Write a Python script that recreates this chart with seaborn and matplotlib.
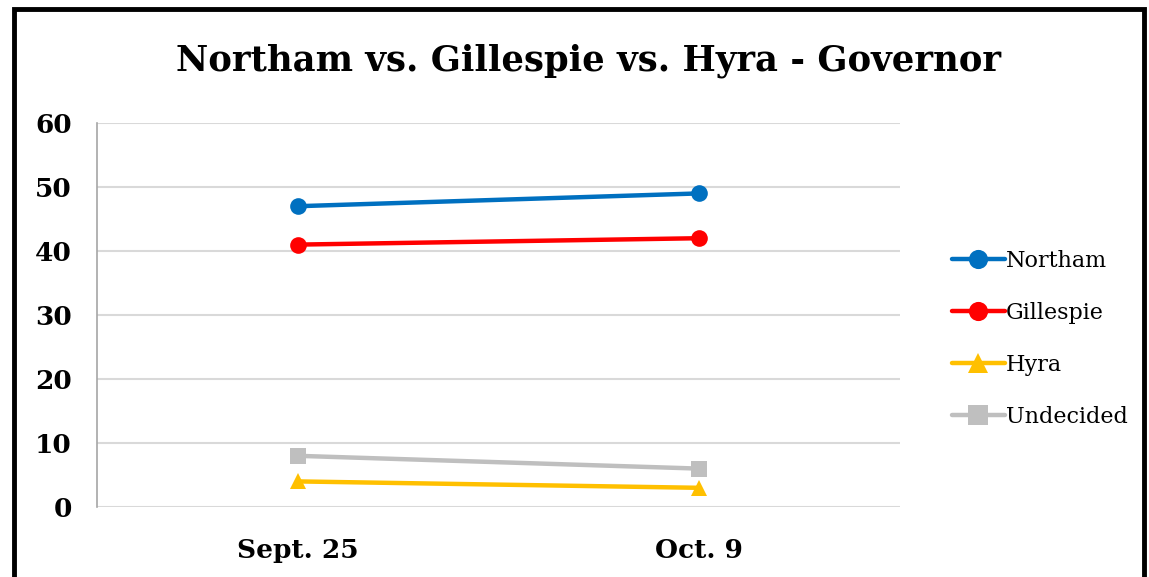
import pandas as pd
import matplotlib.pyplot as plt
import seaborn as sns
from matplotlib.patches import Rectangle

# ── Data ─────────────────────────────────────────────────────────────────────
dates      = ['Sept. 25', 'Oct. 9']
candidates = ['Northam', 'Gillespie', 'Hyra', 'Undecided']
northam    = [47, 49]
gillespie  = [41, 42]
hyra       = [4, 3]
undecided  = [8, 6]

COLORS  = ['#0070C0', '#FF0000', '#FFC000', '#BFBFBF']
MARKERS = ['o', 'o', '^', 's']

df = pd.DataFrame({
    'date': dates * 4,
    'candidate': [c for c in candidates for _ in dates],
    'value': northam + gillespie + hyra + undecided,
})

sns.set_style('white')
plt.rcParams['font.family'] = ['DejaVu Serif']
plt.rcParams['text.color'] = 'black'
plt.rcParams['xtick.color'] = 'black'
plt.rcParams['ytick.color'] = 'black'

fig = plt.figure(figsize=(11.49, 5.77), dpi=100)
ax = fig.add_axes([0.0844, 0.1213, 0.6986, 0.6655])

for name, col, mk in zip(candidates, COLORS, MARKERS):
    sub = df[df['candidate'] == name]
    sns.lineplot(data=sub, x='date', y='value', ax=ax, color=col,
                 marker=mk, markersize=12, markeredgewidth=0,
                 linewidth=3.2, label=name, sort=False)

ax.set_xlim(-0.5, 1.5)
ax.set_ylim(0, 60)
ax.set_yticks(range(0, 61, 10))
ax.yaxis.grid(True, color='#D9D9D9', linewidth=1.5)
ax.set_xlabel('')
ax.set_ylabel('')
for s in ['top', 'right', 'bottom']:
    ax.spines[s].set_visible(False)
ax.spines['left'].set_color('#A6A6A6')
ax.spines['left'].set_linewidth(1.2)
ax.tick_params(axis='both', length=0, labelsize=19, pad=18)
ax.tick_params(axis='x', pad=22)
for lbl in ax.get_xticklabels() + ax.get_yticklabels():
    lbl.set_fontweight('bold')

ax.legend(loc='center left', bbox_to_anchor=(1.04, 0.437), frameon=False,
          fontsize=16, handlelength=2.4, handletextpad=0.05, labelspacing=1.35,
          markerscale=1.15, labelcolor='black')

fig.suptitle('Northam vs. Gillespie vs. Hyra - Governor', x=0.512, y=0.925,
             fontsize=25.5, fontweight='bold', color='black')

# border around the chart
fig.patches.append(Rectangle((0.0122, -0.05), 0.9835, 1.035, transform=fig.transFigure,
                             fill=False, edgecolor='black', linewidth=3.5))

plt.savefig('out.png', dpi=100)
